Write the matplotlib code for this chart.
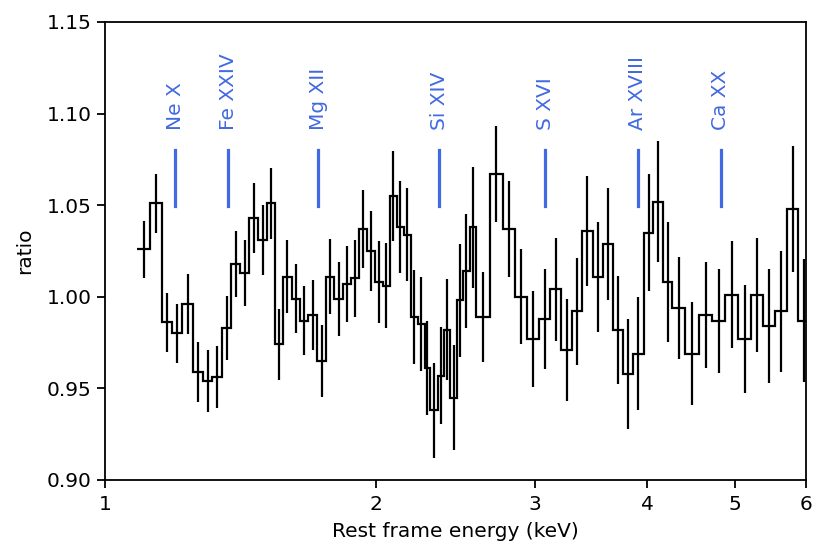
import matplotlib
matplotlib.use('Agg')
import matplotlib.pyplot as plt
from matplotlib.ticker import FixedLocator, NullLocator, FixedFormatter
import numpy as np

# bin edges (keV) of the grouped spectrum
edges = [1.086, 1.122, 1.156, 1.186, 1.219, 1.251, 1.284, 1.316, 1.349, 1.381,
         1.413, 1.445, 1.480, 1.512, 1.545, 1.576, 1.612, 1.647, 1.682, 1.721,
         1.760, 1.796, 1.838, 1.876, 1.915, 1.953, 1.995, 2.033, 2.070, 2.111,
         2.145, 2.186, 2.223, 2.264, 2.297, 2.340, 2.381, 2.417, 2.459, 2.497,
         2.540, 2.584, 2.673, 2.763, 2.855, 2.942, 3.036, 3.123, 3.209, 3.301,
         3.386, 3.479, 3.569, 3.662, 3.761, 3.858, 3.964, 4.061, 4.166, 4.263,
         4.410, 4.563, 4.722, 4.877, 5.047, 5.217, 5.380, 5.542, 5.721, 5.884,
         6.073]

ratio = [1.026, 1.051, 0.986, 0.980, 0.996, 0.959, 0.954, 0.956, 0.983, 1.018,
         1.013, 1.043, 1.031, 1.051, 0.974, 1.011, 0.999, 0.987, 0.990, 0.965,
         1.011, 0.999, 1.007, 1.010, 1.037, 1.025, 1.008, 1.006, 1.055, 1.038,
         1.034, 0.989, 0.985, 0.961, 0.938, 0.957, 0.982, 0.945, 0.998, 1.014,
         1.038, 0.989, 1.067, 1.037, 1.000, 0.977, 0.988, 1.004, 0.971, 0.992,
         1.036, 1.011, 1.029, 0.982, 0.958, 0.969, 1.035, 1.052, 1.008, 0.994,
         0.969, 0.990, 0.987, 1.001, 0.977, 1.001, 0.984, 0.992, 1.048, 0.987]

err = [0.0156, 0.016, 0.016, 0.016, 0.0164, 0.0164, 0.0167, 0.0169, 0.0173, 0.018,
       0.018, 0.019, 0.019, 0.0195, 0.0193, 0.020, 0.019, 0.019, 0.019, 0.0195,
       0.0203, 0.0202, 0.0208, 0.021, 0.0215, 0.022, 0.0224, 0.0233, 0.0245, 0.025,
       0.0255, 0.0255, 0.0257, 0.0256, 0.026, 0.0265, 0.0275, 0.0285, 0.031, 0.031,
       0.033, 0.0245, 0.026, 0.026, 0.026, 0.0264, 0.0273, 0.028, 0.028, 0.029,
       0.030, 0.030, 0.0305, 0.0295, 0.030, 0.031, 0.032, 0.033, 0.0328, 0.0277,
       0.028, 0.029, 0.0284, 0.0292, 0.0296, 0.031, 0.0313, 0.0328, 0.0344, 0.0334]

line_names = ['Ne X', 'Fe XXIV', 'Mg XII', 'Si XIV', 'S XVI', 'Ar XVIII', 'Ca XX']
line_energies = [1.196, 1.370, 1.724, 2.350, 3.083, 3.901, 4.825]

edges = np.array(edges)
centers = np.sqrt(edges[:-1] * edges[1:])

fig = plt.figure(figsize=(8.3, 5.58), dpi=100)
ax = fig.add_axes([0.1265, 0.1398, 0.8445, 0.8208])

ax.stairs(ratio, edges, color='black', linewidth=1.6, baseline=None)
ax.errorbar(centers, ratio, yerr=err, fmt='none', ecolor='black', elinewidth=1.6)

for name, e in zip(line_names, line_energies):
    ax.plot([e, e], [1.0496, 1.080], color='royalblue', linewidth=2.3)
    ax.text(e, 1.091, name, rotation=90, ha='center', va='bottom',
            color='royalblue', fontsize=14.5)

ax.set_xscale('log')
ax.set_xlim(1, 6)
ax.set_ylim(0.90, 1.15)
ax.xaxis.set_major_locator(FixedLocator([1, 2, 3, 4, 5, 6]))
ax.xaxis.set_major_formatter(FixedFormatter(['1', '2', '3', '4', '5', '6']))
ax.xaxis.set_minor_locator(NullLocator())
ax.set_yticks([0.90, 0.95, 1.00, 1.05, 1.10, 1.15])
ax.set_yticklabels(['0.90', '0.95', '1.00', '1.05', '1.10', '1.15'])
ax.tick_params(labelsize=14.5, length=6, width=1.3)
ax.tick_params(axis='x', pad=4.5)
for s in ax.spines.values():
    s.set_linewidth(1.3)

ax.set_xlabel('Rest frame energy (keV)', fontsize=14.5, labelpad=6)
ax.set_ylabel('ratio', fontsize=14.5, labelpad=9)

fig.savefig('out.png', dpi=100)
